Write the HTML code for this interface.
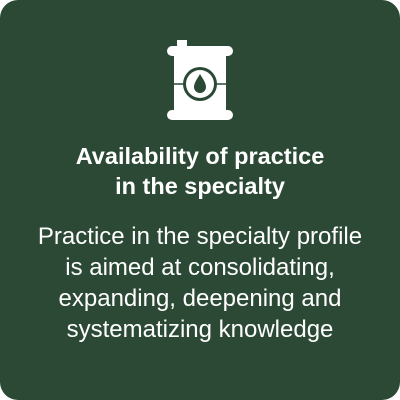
<!DOCTYPE html>
<html><head><style>
html,body{margin:0;padding:0;background:#fff;}
#card{position:absolute;left:0;top:0;width:400px;height:400px;background:#2b4935;border-radius:18px;overflow:hidden;font-family:"Liberation Sans",sans-serif;color:#fff;text-align:center;}
#title{position:absolute;left:0;width:400px;top:141px;font-size:23.5px;font-weight:bold;line-height:30px;}
#body{position:absolute;left:0;width:400px;top:221px;font-size:24px;line-height:31px;}
</style></head><body>
<div id="card">
<svg width="400" height="140" style="position:absolute;left:0;top:0">
<rect x="177" y="40" width="10" height="6" fill="#fff"/>
<rect x="167" y="46" width="66" height="10" rx="5" fill="#fff"/>
<rect x="174" y="55" width="52" height="56" fill="#fff"/>
<rect x="167" y="110" width="66" height="10" rx="5" fill="#fff"/>
<line x1="174" y1="84" x2="226" y2="84" stroke="#2b4935" stroke-width="1.5"/>
<circle cx="200" cy="84" r="17" fill="#2b4935"/>
<circle cx="200" cy="84" r="14" fill="#fff"/>
<path d="M200 74 C197 79 194 83 194 87 A6 6 0 0 0 206 87 C206 83 203 79 200 74Z" fill="#2b4935"/>
</svg>
<div id="title">Availability of practice<br>in the specialty</div>
<div id="body">Practice in the specialty profile<br>is aimed at consolidating,<br>expanding, deepening and<br>systematizing knowledge</div>
</div>
</body></html>
